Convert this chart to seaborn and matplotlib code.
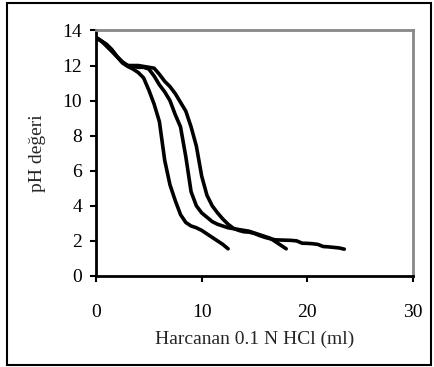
import numpy as np
import pandas as pd
import seaborn as sns
import matplotlib.pyplot as plt
from matplotlib.patches import Rectangle

sns.set_style("white")
plt.rcParams['font.family'] = ['Liberation Serif', 'DejaVu Serif']

# Titrasyon eğrileri (0.5 ml adımlarla okunmuş değerler)
x_sol = np.arange(0, 12.51, 0.5)
ph_sol = [13.6, 13.4, 13.2, 12.9, 12.5, 12.15, 11.95, 11.8, 11.6, 11.3, 10.6, 9.8, 8.8,
          6.6, 5.2, 4.3, 3.5, 3.05, 2.85, 2.75, 2.6, 2.4, 2.2, 2.0, 1.8, 1.55]

x_orta = np.arange(0, 18.01, 0.5)
ph_orta = [13.6, 13.4, 13.2, 12.9, 12.5, 12.2, 12.0, 11.95, 11.9, 11.9, 11.8, 11.4, 10.9,
           10.5, 10.0, 9.2, 8.5, 6.8, 4.8, 4.0, 3.6, 3.35, 3.1, 2.95, 2.85, 2.75, 2.7,
           2.65, 2.6, 2.55, 2.45, 2.35, 2.25, 2.15, 1.95, 1.75, 1.55]

x_sag = np.arange(0, 23.51, 0.5)
ph_sag = [13.6, 13.4, 13.1, 12.8, 12.5, 12.2, 12.0, 12.0, 12.0, 11.95, 11.9, 11.85, 11.5,
          11.1, 10.8, 10.4, 9.9, 9.4, 8.5, 7.4, 5.7, 4.6, 4.0, 3.6, 3.25, 2.95, 2.72,
          2.6, 2.52, 2.5, 2.42, 2.3, 2.2, 2.12, 2.06, 2.05, 2.04, 2.03, 2.0, 1.87, 1.86,
          1.84, 1.8, 1.68, 1.66, 1.63, 1.6, 1.53]

x_ticks = [0, 10, 20, 30]
y_ticks = list(range(0, 15, 2))

df = pd.concat([
    pd.DataFrame({"ml": x_sol, "ph": ph_sol, "egri": "sol"}),
    pd.DataFrame({"ml": x_orta, "ph": ph_orta, "egri": "orta"}),
    pd.DataFrame({"ml": x_sag, "ph": ph_sag, "egri": "sag"}),
])

fig = plt.figure(figsize=(4.35, 3.67), dpi=100)
ax = fig.add_axes([0.2207, 0.248, 0.7287, 0.669])

sns.lineplot(data=df, x="ml", y="ph", hue="egri", estimator=None, sort=False,
             palette=["black"] * 3, linewidth=2.6, legend=False, ax=ax)

ax.set_xlim(0, 30)
ax.set_ylim(0, 14)
ax.set_xticks(x_ticks)
ax.set_yticks(y_ticks)
ax.set_xlabel("Harcanan 0.1 N HCl (ml)", fontsize=14, labelpad=7)
ax.set_ylabel("pH değeri", fontsize=14, labelpad=12)
ax.tick_params(axis="both", direction="out", length=4, width=1.5, labelsize=14,
               colors="black", pad=6)
ax.tick_params(axis="x", pad=16)
ax.tick_params(left=True, bottom=True)

for s in ["left", "bottom"]:
    ax.spines[s].set_color("black")
    ax.spines[s].set_linewidth(2)
for s in ["top", "right"]:
    ax.spines[s].set_color("#888888")
    ax.spines[s].set_linewidth(2)

# dış çerçeve
fig.patches.append(Rectangle((0.016, 0.006), 0.975, 0.986, transform=fig.transFigure,
                             fill=False, edgecolor="black", linewidth=1.5))

fig.savefig("out.png", dpi=100)
